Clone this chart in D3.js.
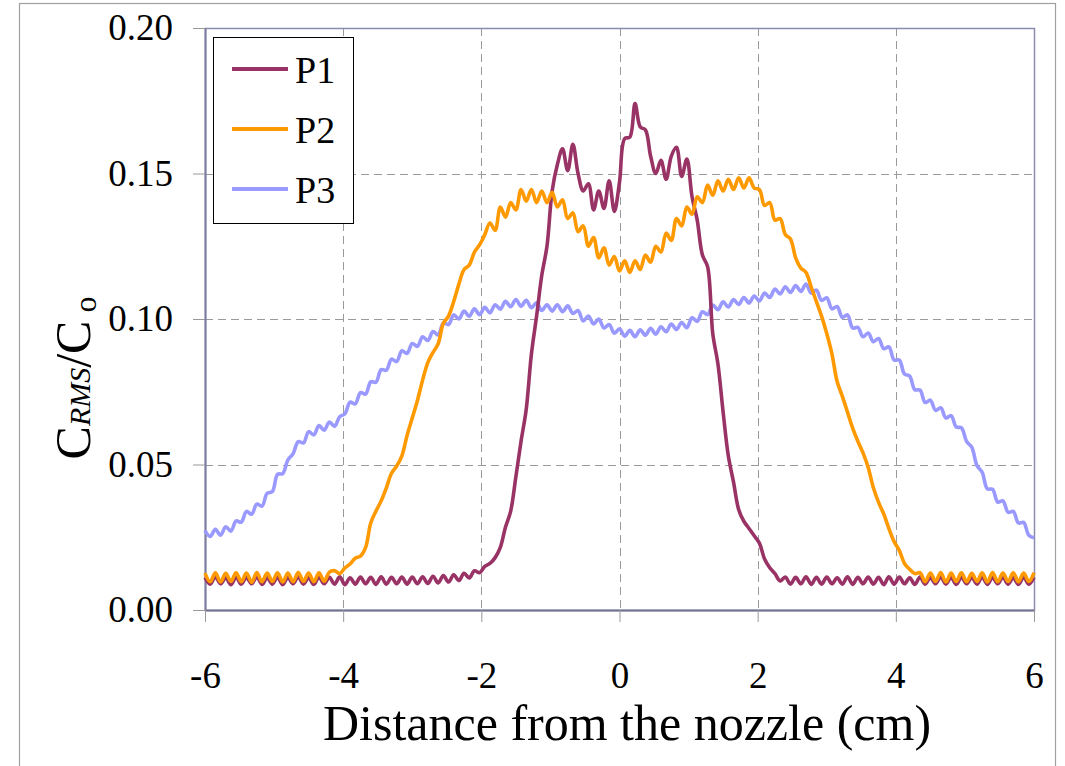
<!DOCTYPE html>
<html lang="en">
<head>
    <meta charset="UTF-8">
    <title>CRMS/Co profiles</title>
    <script src="https://d3js.org/d3.v7.min.js"></script>
    <style>
        body { margin: 0; background: #fff; }
        svg text { font-family: "Liberation Serif", "DejaVu Serif", serif !important; fill: #000; }
        .grid { stroke: #9a9a9a; stroke-width: 1; stroke-dasharray: 8,5; }
    </style>
</head>
<body>
    <svg width="1065" height="766"></svg>
    <script>
        // sample positions along the jet (cm)
        const distance = [
            -6, -5.925, -5.85, -5.775, -5.7, -5.625, -5.55, -5.475, -5.4, -5.325,
            -5.25, -5.175, -5.1, -5.025, -4.95, -4.875, -4.8, -4.725, -4.65, -4.575,
            -4.5, -4.425, -4.35, -4.275, -4.2, -4.125, -4.05, -3.975, -3.9, -3.825,
            -3.75, -3.675, -3.6, -3.525, -3.45, -3.375, -3.3, -3.225, -3.15, -3.075,
            -3, -2.925, -2.85, -2.775, -2.7, -2.625, -2.55, -2.475, -2.4, -2.325,
            -2.25, -2.175, -2.1, -2.025, -1.95, -1.875, -1.8, -1.725, -1.65, -1.575,
            -1.5, -1.425, -1.35, -1.275, -1.2, -1.125, -1.05, -0.975, -0.9, -0.825,
            -0.75, -0.675, -0.6, -0.525, -0.45, -0.375, -0.3, -0.225, -0.15, -0.075,
            0, 0.075, 0.15, 0.225, 0.3, 0.375, 0.45, 0.525, 0.6, 0.675,
            0.75, 0.825, 0.9, 0.975, 1.05, 1.125, 1.2, 1.275, 1.35, 1.425,
            1.5, 1.575, 1.65, 1.725, 1.8, 1.875, 1.95, 2.025, 2.1, 2.175,
            2.25, 2.325, 2.4, 2.475, 2.55, 2.625, 2.7, 2.775, 2.85, 2.925,
            3, 3.075, 3.15, 3.225, 3.3, 3.375, 3.45, 3.525, 3.6, 3.675,
            3.75, 3.825, 3.9, 3.975, 4.05, 4.125, 4.2, 4.275, 4.35, 4.425,
            4.5, 4.575, 4.65, 4.725, 4.8, 4.875, 4.95, 5.025, 5.1, 5.175,
            5.25, 5.325, 5.4, 5.475, 5.55, 5.625, 5.7, 5.775, 5.85, 5.925,
            6
        ];

        const p1 = [
            0.0112, 0.0089, 0.0114, 0.0090, 0.0111, 0.0087, 0.0113, 0.0089, 0.0112, 0.0090,
            0.0114, 0.0088, 0.0111, 0.0089, 0.0113, 0.0087, 0.0112, 0.0090, 0.0114, 0.0089,
            0.0111, 0.0088, 0.0113, 0.0090, 0.0112, 0.0089, 0.0114, 0.0087, 0.0111, 0.0089,
            0.0113, 0.0090, 0.0112, 0.0088, 0.0114, 0.0089, 0.0112, 0.0090, 0.0113, 0.0089,
            0.0113, 0.0090, 0.0114, 0.0091, 0.0116, 0.0093, 0.0118, 0.0096, 0.0121, 0.0101,
            0.0126, 0.0110, 0.0135, 0.0128, 0.0150, 0.0160, 0.0180, 0.0215, 0.0285, 0.0340,
            0.0458, 0.0580, 0.0690, 0.0880, 0.1010, 0.1150, 0.1250, 0.1440, 0.1530, 0.1585,
            0.1510, 0.1600, 0.1500, 0.1440, 0.1465, 0.1375, 0.1440, 0.1380, 0.1475, 0.1370,
            0.1470, 0.1620, 0.1625, 0.1740, 0.1660, 0.1650, 0.1560, 0.1500, 0.1545, 0.1480,
            0.1560, 0.1590, 0.1490, 0.1550, 0.1420, 0.1340, 0.1220, 0.1180, 0.0950, 0.0845,
            0.0680, 0.0530, 0.0440, 0.0345, 0.0305, 0.0280, 0.0255, 0.0230, 0.0175, 0.0145,
            0.0125, 0.0100, 0.0113, 0.0089, 0.0112, 0.0090, 0.0114, 0.0088, 0.0112, 0.0089,
            0.0113, 0.0090, 0.0111, 0.0089, 0.0114, 0.0088, 0.0112, 0.0090, 0.0113, 0.0089,
            0.0112, 0.0087, 0.0114, 0.0089, 0.0113, 0.0090, 0.0111, 0.0088, 0.0113, 0.0089,
            0.0112, 0.0090, 0.0114, 0.0089, 0.0112, 0.0088, 0.0113, 0.0090, 0.0112, 0.0089,
            0.0114, 0.0088, 0.0112, 0.0090, 0.0113, 0.0089, 0.0111, 0.0088, 0.0113, 0.0089,
            0.0112
        ];

        const p2 = [
            0.0127, 0.0097, 0.0128, 0.0096, 0.0126, 0.0098, 0.0128, 0.0097, 0.0127, 0.0095,
            0.0129, 0.0097, 0.0127, 0.0098, 0.0128, 0.0096, 0.0127, 0.0097, 0.0129, 0.0098,
            0.0127, 0.0097, 0.0128, 0.0099, 0.0130, 0.0135, 0.0125, 0.0145, 0.0158, 0.0178,
            0.0185, 0.0215, 0.0300, 0.0340, 0.0375, 0.0420, 0.0470, 0.0495, 0.0530, 0.0600,
            0.0660, 0.0720, 0.0790, 0.0850, 0.0885, 0.0915, 0.0985, 0.1010, 0.1060, 0.1120,
            0.1170, 0.1185, 0.1230, 0.1255, 0.1290, 0.1330, 0.1305, 0.1385, 0.1350, 0.1400,
            0.1375, 0.1445, 0.1405, 0.1445, 0.1400, 0.1440, 0.1400, 0.1435, 0.1385, 0.1410,
            0.1345, 0.1365, 0.1300, 0.1320, 0.1250, 0.1280, 0.1210, 0.1245, 0.1185, 0.1215,
            0.1165, 0.1200, 0.1160, 0.1200, 0.1170, 0.1220, 0.1195, 0.1250, 0.1230, 0.1295,
            0.1270, 0.1345, 0.1320, 0.1385, 0.1360, 0.1420, 0.1400, 0.1460, 0.1425, 0.1475,
            0.1440, 0.1480, 0.1445, 0.1485, 0.1450, 0.1485, 0.1450, 0.1445, 0.1390, 0.1400,
            0.1340, 0.1345, 0.1290, 0.1275, 0.1210, 0.1175, 0.1160, 0.1110, 0.1060, 0.1010,
            0.0950, 0.0880, 0.0785, 0.0735, 0.0680, 0.0625, 0.0580, 0.0540, 0.0490, 0.0420,
            0.0370, 0.0330, 0.0280, 0.0235, 0.0205, 0.0160, 0.0140, 0.0125, 0.0128, 0.0097,
            0.0127, 0.0098, 0.0129, 0.0096, 0.0127, 0.0098, 0.0128, 0.0097, 0.0126, 0.0098,
            0.0128, 0.0096, 0.0129, 0.0097, 0.0127, 0.0098, 0.0128, 0.0097, 0.0127, 0.0098,
            0.0128
        ];

        const p3 = [
            0.0273, 0.0253, 0.0277, 0.0257, 0.0286, 0.0271, 0.0306, 0.0302, 0.0339, 0.0329,
            0.0364, 0.0357, 0.0401, 0.0407, 0.0466, 0.0469, 0.0516, 0.0537, 0.0579, 0.0574,
            0.0613, 0.0602, 0.0634, 0.0618, 0.0646, 0.0631, 0.0664, 0.0674, 0.0714, 0.0708,
            0.0747, 0.0742, 0.0784, 0.0783, 0.0826, 0.0824, 0.0862, 0.0854, 0.0891, 0.0882,
            0.0916, 0.0906, 0.0939, 0.0926, 0.0957, 0.0945, 0.0986, 0.0981, 0.1014, 0.1000,
            0.1027, 0.1009, 0.1035, 0.1015, 0.1040, 0.1021, 0.1049, 0.1034, 0.1061, 0.1042,
            0.1067, 0.1044, 0.1064, 0.1039, 0.1056, 0.1029, 0.1049, 0.1027, 0.1049, 0.1025,
            0.1045, 0.1019, 0.1029, 0.0993, 0.1010, 0.0983, 0.1000, 0.0969, 0.0981, 0.0951,
            0.0966, 0.0941, 0.0961, 0.0939, 0.0963, 0.0944, 0.0968, 0.0948, 0.0973, 0.0956,
            0.0983, 0.0964, 0.0988, 0.0970, 0.1004, 0.0992, 0.1025, 0.1015, 0.1048, 0.1032,
            0.1059, 0.1041, 0.1067, 0.1050, 0.1074, 0.1055, 0.1079, 0.1062, 0.1089, 0.1074,
            0.1103, 0.1086, 0.1111, 0.1091, 0.1115, 0.1095, 0.1120, 0.1089, 0.1099, 0.1064,
            0.1073, 0.1035, 0.1043, 0.1006, 0.1014, 0.0969, 0.0971, 0.0939, 0.0952, 0.0922,
            0.0933, 0.0898, 0.0904, 0.0859, 0.0859, 0.0811, 0.0804, 0.0757, 0.0756, 0.0713,
            0.0721, 0.0686, 0.0695, 0.0660, 0.0668, 0.0629, 0.0626, 0.0579, 0.0559, 0.0496,
            0.0473, 0.0416, 0.0415, 0.0371, 0.0375, 0.0336, 0.0339, 0.0299, 0.0301, 0.0257,
            0.0248
        ];

        const seriesNames = ["P1", "P2", "P3"];
        const seriesColors = ["#993366", "#FF9900", "#9999FF"];
        const xTicks = [-6, -4, -2, 0, 2, 4, 6];
        const yTicks = [0, 0.05, 0.10, 0.15, 0.20];

        const serif = '"Liberation Serif", "DejaVu Serif", serif';
        const margin = { top: 28, right: 31, bottom: 156, left: 205 };
        const W = 1065, H = 766;
        const width = W - margin.left - margin.right;
        const height = H - margin.top - margin.bottom;

        const root = d3.select("svg");

        // outer chart frame
        root.append("rect")
            .attr("x", 19.5).attr("y", 3.5)
            .attr("width", 1036).attr("height", 800)
            .attr("fill", "#fff")
            .attr("stroke", "#a0a0a0")
            .attr("stroke-width", 1.2);

        const svg = root.append("g")
            .attr("transform", `translate(${margin.left},${margin.top})`);

        const x = d3.scaleLinear().domain([-6, 6]).range([0, width]);
        const y = d3.scaleLinear().domain([0, 0.2]).range([height, 0]);

        // dashed grid
        svg.append("g").selectAll("line")
            .data(yTicks.filter(d => d > 0 && d < 0.2))
            .join("line")
            .attr("class", "grid")
            .attr("x1", 0).attr("x2", width)
            .attr("y1", d => Math.round(y(d)) + 0.5).attr("y2", d => Math.round(y(d)) + 0.5);

        svg.append("g").selectAll("line")
            .data(xTicks.filter(d => d > -6 && d < 6))
            .join("line")
            .attr("class", "grid")
            .attr("y1", 0).attr("y2", height)
            .attr("x1", d => Math.round(x(d)) + 0.5).attr("x2", d => Math.round(x(d)) + 0.5);

        // plot frame
        svg.append("rect")
            .attr("x", 0.5).attr("y", 0.5)
            .attr("width", width).attr("height", height)
            .attr("fill", "none")
            .attr("stroke", "#8c8cb0")
            .attr("stroke-width", 1.5);

        const yAxis = svg.append("g")
            .attr("font-family", serif)
            .call(d3.axisLeft(y).tickValues(yTicks).tickFormat(d3.format(".2f"))
                .tickSizeInner(12).tickSizeOuter(0).tickPadding(20));
        yAxis.attr("font-family", serif).attr("font-size", 37);
        yAxis.select(".domain").attr("stroke", "#7c7ca0").attr("stroke-width", 2);
        yAxis.selectAll(".tick line").attr("stroke", "#999");

        const xAxis = svg.append("g")
            .attr("transform", `translate(0,${height})`)
            .call(d3.axisBottom(x).tickValues(xTicks).tickFormat(d3.format("d"))
                .tickSizeInner(12).tickSizeOuter(0).tickPadding(40));
        xAxis.attr("font-family", serif).attr("font-size", 37);
        xAxis.select(".domain").attr("stroke", "#707090").attr("stroke-width", 2);
        xAxis.selectAll(".tick line").attr("stroke", "#999");
        xAxis.selectAll(".tick text").text(d => d < 0 ? "-" + Math.abs(d) : d);

        const line = d3.line()
            .x(d => x(d[0]))
            .y(d => y(d[1]))
            .curve(d3.curveCatmullRom.alpha(0.5));

        const seriesValues = [p1, p2, p3];
        const drawOrder = [2, 0, 1];
        drawOrder.forEach(k => {
            svg.append("path")
                .datum(distance.map((d, i) => [d, seriesValues[k][i]]))
                .attr("fill", "none")
                .attr("stroke", seriesColors[k])
                .attr("stroke-width", 3.6)
                .attr("stroke-linejoin", "round")
                .attr("d", line);
        });

        // legend
        const legend = root.append("g");
        legend.append("rect")
            .attr("x", 213.5).attr("y", 37.5)
            .attr("width", 140).attr("height", 186)
            .attr("fill", "#fff")
            .attr("stroke", "#000")
            .attr("stroke-width", 1);

        seriesNames.forEach((name, i) => {
            const ly = 69 + i * 60;
            legend.append("line")
                .attr("x1", 232).attr("x2", 288)
                .attr("y1", ly).attr("y2", ly)
                .attr("stroke", seriesColors[i])
                .attr("stroke-width", 3.8);
            legend.append("text")
                .attr("x", 295).attr("y", ly + 14)
                .style("font-family", serif)
                .style("font-size", "38px")
                .text(name);
        });

        // axis titles
        root.append("text")
            .attr("x", 627).attr("y", 740)
            .attr("text-anchor", "middle")
            .style("font-family", serif)
            .style("font-size", "50px")
            .text("Distance from the nozzle (cm)");

        const yTitle = root.append("text")
            .attr("transform", "translate(90,378) rotate(-90)")
            .attr("text-anchor", "middle")
            .style("font-family", serif)
            .style("font-size", "50px");
        yTitle.append("tspan").text("C");
        yTitle.append("tspan").style("font-size", "30px").style("font-style", "italic").text("RMS");
        yTitle.append("tspan").text("/C");
        yTitle.append("tspan").attr("dy", 6).style("font-size", "32px").text(" o");
    </script>
</body>
</html>
